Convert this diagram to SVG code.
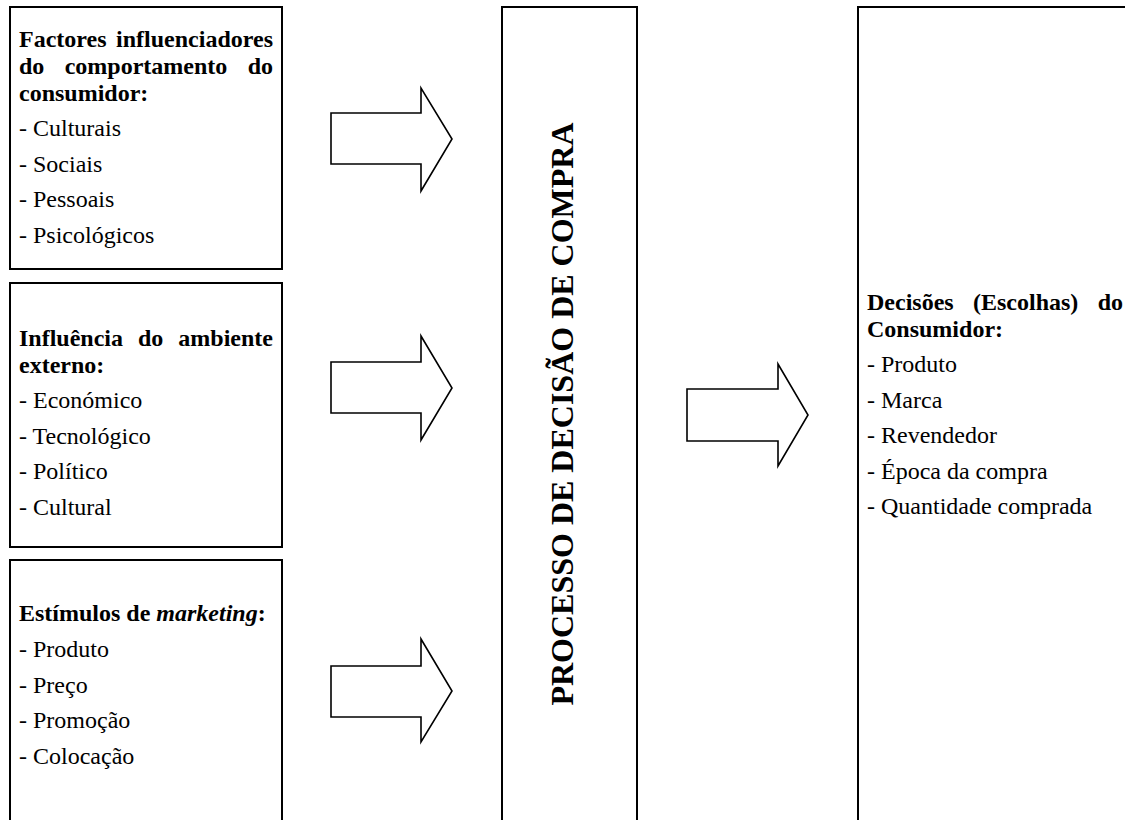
<svg xmlns="http://www.w3.org/2000/svg" width="1125" height="820" viewBox="0 0 1125 820">
<style>
.box{fill:#fff;stroke:#000;stroke-width:2}
.arr{fill:#fff;stroke:#000;stroke-width:1.6;stroke-linejoin:miter}
text{font-family:"Liberation Serif","Times New Roman",serif;font-size:24px;fill:#000}
.b{font-weight:bold}
.title{font-weight:bold;font-size:32px}
</style>
<rect x="0" y="0" width="1125" height="820" fill="#fff"/>
<g id="connectors">
<polygon class="arr" points="331,113 421,113 421,88 452,139 421,191 421,164 331,164"/>
<polygon class="arr" points="331,362 421,362 421,336 452,388 421,440 421,413 331,413"/>
<polygon class="arr" points="331,666 421,666 421,639 452,691 421,742 421,717 331,717"/>
<polygon class="arr" points="687,389 778,389 778,364 808,415 778,466 778,441 687,441"/>
</g>
<g id="factores">
<rect class="box" x="10" y="7" width="272" height="262"/>
<text class="b" x="19" y="47">Factores</text>
<text class="b" x="273" y="47" text-anchor="end">influenciadores</text>
<text class="b" x="19" y="74">do</text>
<text class="b" x="146" y="74" text-anchor="middle">comportamento</text>
<text class="b" x="273" y="74" text-anchor="end">do</text>
<text class="b" x="19" y="101">consumidor:</text>
<text x="19" y="136">- Culturais</text>
<text x="19" y="171.5">- Sociais</text>
<text x="19" y="207">- Pessoais</text>
<text x="19" y="242.5">- Psicológicos</text>
</g>
<g id="ambiente">
<rect class="box" x="10" y="283" width="272" height="264"/>
<text class="b" x="19" y="346">Influência</text>
<text class="b" x="138" y="346">do</text>
<text class="b" x="273" y="346" text-anchor="end">ambiente</text>
<text class="b" x="19" y="373">externo:</text>
<text x="19" y="408">- Económico</text>
<text x="19" y="443.5">- Tecnológico</text>
<text x="19" y="479">- Político</text>
<text x="19" y="514.5">- Cultural</text>
</g>
<g id="marketing">
<rect class="box" x="10" y="560" width="272" height="280"/>
<text class="b" x="19" y="621">Estímulos de <tspan font-style="italic">marketing</tspan>:</text>
<text x="19" y="657">- Produto</text>
<text x="19" y="692.5">- Preço</text>
<text x="19" y="728">- Promoção</text>
<text x="19" y="763.5">- Colocação</text>
</g>
<g id="processo">
<rect class="box" x="502" y="7" width="135" height="840"/>
<text class="title" transform="translate(573,414) rotate(-90)" text-anchor="middle">PROCESSO DE DECISÃO DE COMPRA</text>
</g>
<g id="decisoes">
<rect class="box" x="858" y="7" width="290" height="840"/>
<text class="b" x="867" y="310">Decisões</text>
<text class="b" x="973" y="310">(Escolhas)</text>
<text class="b" x="1123" y="310" text-anchor="end">do</text>
<text class="b" x="867" y="337">Consumidor:</text>
<text x="867" y="372">- Produto</text>
<text x="867" y="407.5">- Marca</text>
<text x="867" y="443">- Revendedor</text>
<text x="867" y="478.5">- Época da compra</text>
<text x="867" y="514">- Quantidade comprada</text>
</g>
</svg>
